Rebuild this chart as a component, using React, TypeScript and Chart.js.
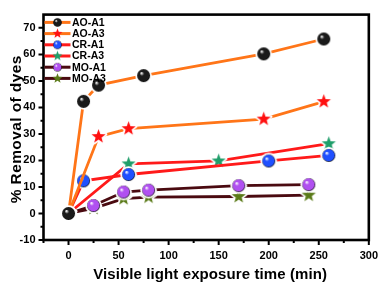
import React, { useEffect, useRef } from "react";
import { Chart, registerables } from "chart.js";

Chart.register(...registerables);

const seriesLabels = ["AO-A1", "AO-A3", "CR-A1", "CR-A3", "MO-A1", "MO-A3"];
const xTitle = "Visible light exposure time (min)";
const yTitle = "% Removal of dyes";

const aoA1X = [0, 15, 30, 75, 195, 255];
const aoA1Y = [0, 42.3, 48.4, 52.0, 60.2, 65.8];
const aoA3X = [0, 30, 60, 195, 255];
const aoA3Y = [0, 29.0, 32.0, 35.6, 42.2];
const crA1X = [0, 15, 60, 200, 260];
const crA1Y = [0, 12.3, 14.7, 19.8, 21.9];
const crA3X = [0, 60, 150, 260];
const crA3Y = [0, 18.7, 19.8, 26.3];
const moA1X = [0, 25, 55, 80, 170, 240];
const moA1Y = [0, 3.0, 8.1, 8.8, 10.5, 10.9];
const moA3X = [0, 25, 55, 80, 170, 240];
const moA3Y = [0, 1.9, 5.6, 6.2, 6.4, 6.9];

const xTicks = [0, 50, 100, 150, 200, 250, 300];
const xMinorTicks = [-25, 25, 75, 125, 175, 225, 275];
const yTicks = [-10, 0, 10, 20, 30, 40, 50, 60, 70];
const yMinorTicks = [-5, 5, 15, 25, 35, 45, 55, 65, 75];

const lineColors = ["#ff7518", "#ff7518", "#ff1a1a", "#ff1a1a", "#4a0a10", "#4a0a10"];
const markerColors = ["#1a1a1a", "#ff1010", "#2050ff", "#1f9e6a", "#b050f0", "#5a7a18"];
const markerKinds = ["sphere", "star", "sphere", "star", "sphere", "star"];

const FONT = "'Liberation Sans', Arial, sans-serif";

function makeMarker(kind: string, color: string, r: number, halo: number): HTMLCanvasElement {
  const size = Math.ceil((r + halo) * 2 + 2);
  const c = document.createElement("canvas");
  c.width = size;
  c.height = size;
  const ctx = c.getContext("2d")!;
  const cx = size / 2;
  const cy = size / 2;
  if (kind === "sphere") {
    if (halo > 0) {
      ctx.fillStyle = "#ffffff";
      ctx.beginPath();
      ctx.arc(cx, cy, r + halo, 0, Math.PI * 2);
      ctx.fill();
    }
    const g = ctx.createRadialGradient(cx - r * 0.35, cy - r * 0.4, r * 0.05, cx, cy, r);
    g.addColorStop(0, "#ffffff");
    g.addColorStop(0.3, color);
    g.addColorStop(0.85, color);
    g.addColorStop(1, "#000000");
    ctx.fillStyle = g;
    ctx.beginPath();
    ctx.arc(cx, cy, r, 0, Math.PI * 2);
    ctx.fill();
  } else {
    const pts: [number, number][] = [];
    const inner = r * 0.42;
    for (let i = 0; i < 10; i++) {
      const a = -Math.PI / 2 + (i * Math.PI) / 5;
      const rr = i % 2 === 0 ? r : inner;
      pts.push([cx + rr * Math.cos(a), cy + rr * Math.sin(a)]);
    }
    const path = () => {
      ctx.beginPath();
      pts.forEach((p, i) => (i === 0 ? ctx.moveTo(p[0], p[1]) : ctx.lineTo(p[0], p[1])));
      ctx.closePath();
    };
    if (halo > 0) {
      path();
      ctx.strokeStyle = "#ffffff";
      ctx.lineWidth = halo * 2;
      ctx.lineJoin = "round";
      ctx.stroke();
    }
    path();
    ctx.fillStyle = color;
    ctx.fill();
  }
  return c;
}

function toPoints(xs: number[], ys: number[]) {
  return xs.map((x, i) => ({ x, y: ys[i] }));
}

export default function App() {
  const ref = useRef<HTMLCanvasElement | null>(null);

  useEffect(() => {
    document.body.style.margin = "0";
    const canvas = ref.current!;
    const xsAll = [aoA1X, aoA3X, crA1X, crA3X, moA1X, moA3X];
    const ysAll = [aoA1Y, aoA3Y, crA1Y, crA3Y, moA1Y, moA3Y];

    const bigMarkers = markerKinds.map((k, i) =>
      makeMarker(k, markerColors[i], k === "sphere" ? 6.5 : 7.4, 1.8)
    );
    const smallMarkers = markerKinds.map((k, i) =>
      makeMarker(k, markerColors[i], k === "sphere" ? 4.3 : 5.2, 0)
    );

    const datasets = seriesLabels.map((label, i) => ({
      label,
      data: toPoints(xsAll[i], ysAll[i]),
      borderColor: lineColors[i],
      backgroundColor: lineColors[i],
      borderWidth: 2.8,
      pointStyle: bigMarkers[i] as any,
      pointRadius: 6,
      showLine: true,
      tension: 0,
    }));

    const framePlugin = {
      id: "frame",
      afterDatasetsDraw(chart: any) {
        const { ctx, chartArea, scales } = chart;
        ctx.save();
        ctx.strokeStyle = "#000";
        ctx.lineWidth = 2.6;
        ctx.strokeRect(chartArea.left, chartArea.top, chartArea.right - chartArea.left, chartArea.bottom - chartArea.top);
        ctx.lineWidth = 2;
        const ys = scales.y;
        const xs = scales.x;
        ctx.beginPath();
        yTicks.forEach((v) => {
          const p = ys.getPixelForValue(v);
          ctx.moveTo(chartArea.left, p);
          ctx.lineTo(chartArea.left - 5, p);
        });
        yMinorTicks.forEach((v) => {
          const p = ys.getPixelForValue(v);
          if (p < chartArea.top + 1) return;
          ctx.moveTo(chartArea.left, p);
          ctx.lineTo(chartArea.left - 3, p);
        });
        xTicks.forEach((v) => {
          const p = xs.getPixelForValue(v);
          ctx.moveTo(p, chartArea.bottom);
          ctx.lineTo(p, chartArea.bottom + 5);
        });
        xMinorTicks.forEach((v) => {
          const p = xs.getPixelForValue(v);
          ctx.moveTo(p, chartArea.bottom);
          ctx.lineTo(p, chartArea.bottom + 3);
        });
        ctx.stroke();

        // legend
        const lx0 = chartArea.left + 1;
        const lx1 = chartArea.left + 27;
        const mx = chartArea.left + 14;
        ctx.font = `bold 10.5px ${FONT}`;
        ctx.textBaseline = "middle";
        ctx.textAlign = "left";
        seriesLabels.forEach((label, i) => {
          const y = chartArea.top + 7.8 + i * 11.2;
          ctx.strokeStyle = lineColors[i];
          ctx.lineWidth = 3;
          ctx.beginPath();
          ctx.moveTo(lx0, y);
          ctx.lineTo(lx1, y);
          ctx.stroke();
          const m = smallMarkers[i];
          ctx.drawImage(m, mx - m.width / 2, y - m.height / 2);
          ctx.fillStyle = "#000";
          ctx.fillText(label, lx1 + 1.5, y + 0.5);
        });

        // axis titles
        ctx.fillStyle = "#000";
        ctx.textAlign = "center";
        ctx.textBaseline = "middle";
        (ctx as any).letterSpacing = "0.1px";
        ctx.font = `bold 15px ${FONT}`;
        ctx.fillText(xTitle, (chartArea.left + chartArea.right) / 2 + 4, 275);
        ctx.save();
        ctx.translate(17, (chartArea.top + chartArea.bottom) / 2 + 2);
        ctx.rotate(-Math.PI / 2);
        (ctx as any).letterSpacing = "0.4px";
        ctx.font = `bold 15.5px ${FONT}`;
        ctx.fillText(yTitle, 0, 0);
        ctx.restore();
        ctx.restore();
      },
    };

    const tickFont = { family: FONT, size: 11, weight: "bold" as const };

    const chart = new Chart(canvas, {
      type: "scatter",
      data: { datasets: datasets as any },
      options: {
        responsive: false,
        animation: false,
        layout: { padding: { top: 3, right: 11, left: 0, bottom: 0 } },
        plugins: { legend: { display: false }, tooltip: { enabled: false } },
        scales: {
          x: {
            type: "linear",
            min: -25,
            max: 300,
            grid: { display: false, drawTicks: false },
            border: { display: false },
            afterBuildTicks: (s: any) => {
              s.ticks = xTicks.map((v) => ({ value: v }));
            },
            afterFit: (s: any) => {
              s.height = 46;
            },
            ticks: { font: tickFont, color: "#000", padding: 9, maxRotation: 0 },
          },
          y: {
            type: "linear",
            min: -10,
            max: 75,
            grid: { display: false, drawTicks: false },
            border: { display: false },
            afterBuildTicks: (s: any) => {
              s.ticks = yTicks.map((v) => ({ value: v }));
            },
            afterFit: (s: any) => {
              s.width = 43.5;
            },
            ticks: { font: tickFont, color: "#000", padding: 8 },
          },
        },
      },
      plugins: [framePlugin],
    });
    return () => chart.destroy();
  }, []);

  return (
    <div style={{ width: 387, height: 286, position: "relative", background: "#fff" }}>
      <canvas ref={ref} width={387} height={286} />
    </div>
  );
}
